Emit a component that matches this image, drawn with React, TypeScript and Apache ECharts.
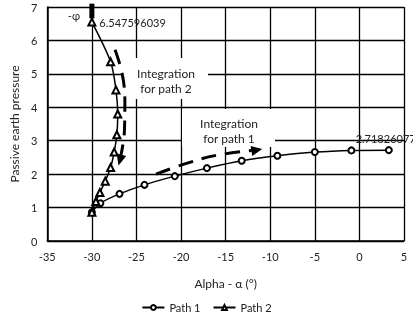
import React, { useEffect, useRef } from "react";
import * as echarts from "echarts";

// Path 1 (circles)
const alpha1 = [-30, -29.05, -26.9, -24.1, -20.7, -17.1, -13.2, -9.2, -5.0, -0.9, 3.3];
const pressure1 = [0.86, 1.13, 1.41, 1.68, 1.94, 2.18, 2.4, 2.55, 2.66, 2.71, 2.718260776];

// Path 2 (triangles)
const alpha2 = [-30, -29.55, -29.1, -28.5, -27.9, -27.5, -27.2, -27.1, -27.3, -27.9, -30];
const pressure2 = [0.86, 1.18, 1.45, 1.79, 2.2, 2.66, 3.18, 3.8, 4.52, 5.36, 6.547596039];

// integration arrows (annotation)
const arrow1X = [-22.8, -19.3, -15.9, -11.5];
const arrow1Y = [2.0, 2.33, 2.57, 2.72];
const arrow2X = [-27.4, -26.6, -26.3, -26.35, -26.85];
const arrow2Y = [5.72, 5.0, 4.2, 3.3, 2.42];

// -phi bar
const phiX = [-30, -30];
const phiY = [6.66, 7.1];

const FONT = "Lato, 'Liberation Sans', sans-serif";

export default function App() {
  const ref = useRef<HTMLDivElement>(null);
  useEffect(() => {
    const chart = echarts.init(ref.current!, null, { renderer: "svg" });
    const zip = (xs: number[], ys: number[]) => xs.map((x, i) => [x, ys[i]]);
    const arrowData = (xs: number[], ys: number[], rot: number) =>
      xs.map((x, i) =>
        i === xs.length - 1
          ? { value: [x, ys[i]], symbol: "triangle", symbolSize: [10, 11], symbolRotate: rot }
          : { value: [x, ys[i]], symbol: "none" }
      );
    const p1 = zip(alpha1, pressure1);
    const p2 = zip(alpha2, pressure2);
    const option: any = {
      animation: false,
      textStyle: { fontFamily: FONT },
      grid: { left: 43, right: 9, top: 7, bottom: 82 },
      xAxis: {
        type: "value",
        min: -35,
        max: 5,
        interval: 5,
        name: "Alpha - α (°)",
        nameLocation: "middle",
        nameGap: 36,
        nameTextStyle: { fontSize: 12, color: "#222", fontFamily: FONT },
        axisLine: { show: true, onZero: false, lineStyle: { color: "#000", width: 1.5 } },
        axisTick: { show: false },
        axisLabel: { fontSize: 11, color: "#222", margin: 10, fontFamily: FONT },
        splitLine: { show: true, lineStyle: { color: "#000", width: 1.3 } },
      },
      yAxis: {
        type: "value",
        min: 0,
        max: 7,
        interval: 1,
        name: "Passive earth pressure",
        nameLocation: "middle",
        nameGap: 24,
        nameTextStyle: { fontSize: 12, color: "#222", fontFamily: FONT },
        axisLine: { show: true, onZero: false, lineStyle: { color: "#000", width: 1.5 } },
        axisTick: { show: false },
        axisLabel: { fontSize: 11, color: "#222", margin: 10, fontFamily: FONT },
        splitLine: { show: true, lineStyle: { color: "#000", width: 1.3 } },
      },
      legend: {
        data: ["Path 1", "Path 2"],
        bottom: 5,
        left: "center",
        itemWidth: 22,
        itemHeight: 6,
        itemGap: 12,
        textStyle: { fontSize: 11, color: "#222", fontFamily: FONT },
      },
      graphic: [
        { type: "rect", z: 1, shape: { x: 123, y: 58, width: 85, height: 41 }, style: { fill: "#fff" } },
        { type: "text", z: 5, x: 166, y: 73, style: { text: "Integration", fontSize: 12, fill: "#222", align: "center", verticalAlign: "middle", fontFamily: FONT } },
        { type: "text", z: 5, x: 166, y: 88, style: { text: "for path 2", fontSize: 12, fill: "#222", align: "center", verticalAlign: "middle", fontFamily: FONT } },
        { type: "rect", z: 1, shape: { x: 182, y: 109, width: 93, height: 38 }, style: { fill: "#fff" } },
        { type: "text", z: 5, x: 229, y: 123, style: { text: "Integration", fontSize: 12, fill: "#222", align: "center", verticalAlign: "middle", fontFamily: FONT } },
        { type: "text", z: 5, x: 229, y: 138, style: { text: "for path 1", fontSize: 12, fill: "#222", align: "center", verticalAlign: "middle", fontFamily: FONT } },
        { type: "text", z: 5, x: 80, y: 15, style: { text: "-φ", fontSize: 11, fill: "#222", align: "right", verticalAlign: "middle", fontFamily: FONT } },
      ],
      series: [
        {
          name: "Path 1",
          type: "line",
          data: p1,
          smooth: 0.3,
          symbol: "emptyCircle",
          symbolSize: 6,
          z: 3,
          lineStyle: { color: "#000", width: 1.5 },
          itemStyle: { color: "#000", borderWidth: 1.5 },
          label: {
            show: true,
            position: "top",
            distance: 2,
            fontSize: 11,
            color: "#222",
            fontFamily: FONT,
            formatter: (p: any) => (p.dataIndex === alpha1.length - 1 ? String(pressure1[p.dataIndex]) : ""),
          },
        },
        {
          name: "Path 2",
          type: "line",
          data: p2,
          smooth: 0.3,
          symbol: "emptyTriangle",
          symbolSize: 7,
          z: 3,
          lineStyle: { color: "#000", width: 1.5 },
          itemStyle: { color: "#000", borderWidth: 1.3 },
          label: {
            show: true,
            position: "right",
            distance: 3,
            fontSize: 11,
            color: "#222",
            fontFamily: FONT,
            formatter: (p: any) => (p.dataIndex === alpha2.length - 1 ? String(pressure2[p.dataIndex]) : ""),
          },
        },
        {
          name: "arrow1",
          type: "line",
          data: arrowData(arrow1X, arrow1Y, -80),
          smooth: 0.4,
          showSymbol: true,
          silent: true,
          z: 4,
          lineStyle: { color: "#000", width: 3, type: [15, 9] },
          itemStyle: { color: "#000" },
        },
        {
          name: "arrow2",
          type: "line",
          data: arrowData(arrow2X, arrow2Y, 165),
          smooth: 0.4,
          showSymbol: true,
          silent: true,
          z: 4,
          lineStyle: { color: "#000", width: 3, type: [15, 9] },
          itemStyle: { color: "#000" },
        },
        {
          name: "phi",
          type: "line",
          data: zip(phiX, phiY),
          symbol: "none",
          clip: false,
          silent: true,
          z: 4,
          lineStyle: { color: "#000", width: 5 },
        },
      ],
    };
    chart.setOption(option);
    return () => chart.dispose();
  }, []);
  return <div ref={ref} style={{ position: "fixed", left: 0, top: 0, width: 413, height: 323 }} />;
}
